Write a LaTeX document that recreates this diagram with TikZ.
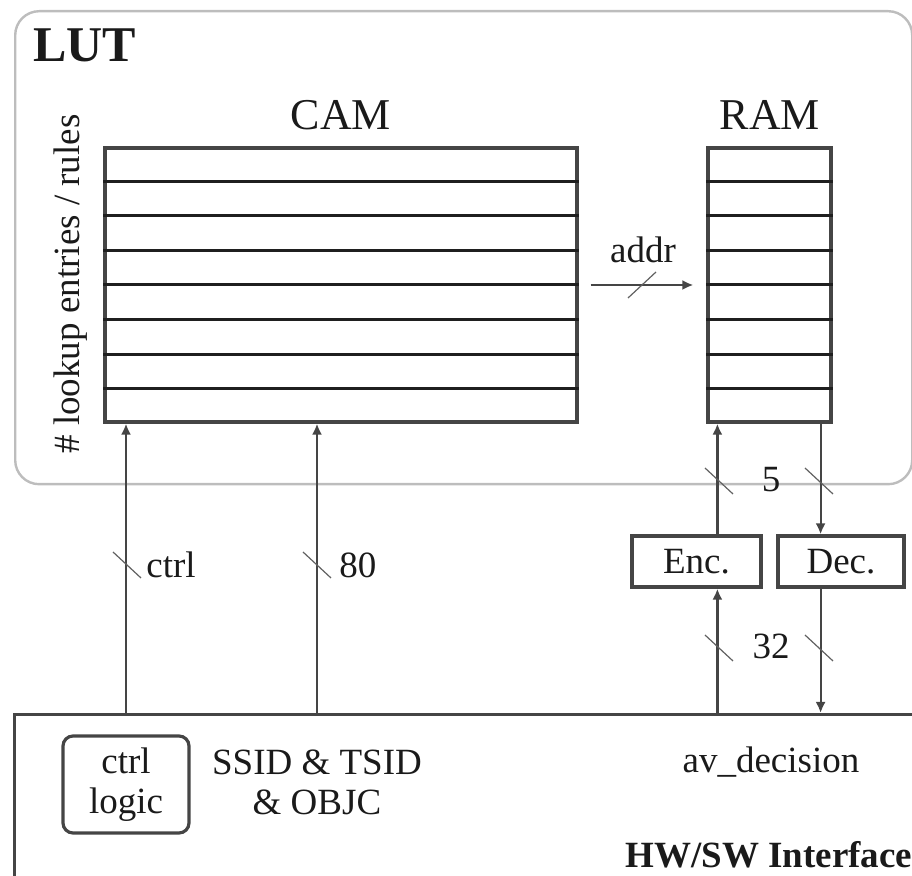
\documentclass[tikz,border=0pt]{standalone}
\usepackage{fontspec}
\setmainfont{Liberation Serif}
\usetikzlibrary{calc,arrows.meta}
\definecolor{boxgray}{HTML}{454545}
\definecolor{lutgray}{HTML}{BDBDBD}
\definecolor{txtcol}{HTML}{1A1A1A}
\begin{document}
\begin{tikzpicture}[x=0.5pt,y=-0.5pt,
  box/.style={draw=boxgray,line width=1.6pt,inner sep=0pt},
  rowline/.style={draw=black!88,line width=1.5pt},
  arr/.style={draw=boxgray,line width=1.1pt,-{Latex[length=5.5pt,width=5pt]}},
  slash/.style={draw=boxgray!85,line width=0.6pt},
  txt/.style={text=txtcol,inner sep=0pt,font=\fontsize{18.5}{20}\selectfont},
  bigtxt/.style={text=txtcol,inner sep=0pt,font=\fontsize{22}{24}\selectfont},
]
\path[use as bounding box] (0,0) rectangle (912,876);
\clip (0,0) rectangle (912,876);

% LUT frame
\node[draw=lutgray,line width=1.2pt,rounded corners=12pt,inner sep=0pt,
      minimum width=448.5pt,minimum height=236.5pt,anchor=north west] (lut) at (14,10) {};
\node[text=txtcol,inner sep=0pt,anchor=base west,font=\fontsize{25}{28}\selectfont\bfseries] (lutlabel) at (33,62) {LUT};

% CAM and RAM
\node[box,minimum width=236pt,minimum height=137pt] (cam) at (341,285) {};
\node[box,minimum width=61.5pt,minimum height=137pt] (ram) at (769.5,285) {};
\foreach \i in {1,...,7}{
  \draw[rowline] ($(cam.north west)!\i/8!(cam.south west)$) -- ($(cam.north east)!\i/8!(cam.south east)$);
  \draw[rowline] ($(ram.north west)!\i/8!(ram.south west)$) -- ($(ram.north east)!\i/8!(ram.south east)$);
}
\node[bigtxt,anchor=base] (camlabel) at (341,130) {CAM};
\node[bigtxt,anchor=base] (ramlabel) at (770,130) {RAM};
\node[txt,rotate=90] (ylab) at (71,284) {\# lookup entries / rules};

% addr arrow
\draw[arr] ($(cam.east)+(12,0)$) coordinate (addrs) -- ($(ram.west)+(-13,0)$) coordinate (addre);
\coordinate (sa) at (642,285);
\draw[slash] ($(sa)+(-14,13)$) -- ($(sa)+(14,-13)$);
\node[txt,anchor=base] (addrlabel) at (643,263) {addr};

% Interface
\node[box,anchor=north west,minimum width=470pt,minimum height=100pt] (iface) at (13,713) {};
\node[box,draw=boxgray,rounded corners=5pt,minimum width=63pt,minimum height=48.5pt,
      txt,align=center,font=\fontsize{18.5}{20}\selectfont] (ctl) at (126,784.5) {ctrl\\logic};
\node[txt,align=center,anchor=north] (ssid) at (317,749) {SSID \& TSID\\\& OBJC};
\node[txt,anchor=base] (avd) at (771,773) {av\_decision};
\node[txt,anchor=base west,font=\fontsize{18.5}{20}\selectfont\bfseries] (hwsw) at (625,868) {HW/SW Interface};

% Encoder / Decoder
\node[box,minimum width=64.5pt,minimum height=25.5pt,txt] (enc) at (696.5,561.5) {Enc.};
\node[box,minimum width=63pt,minimum height=25.5pt,txt] (dec) at (841,561.5) {Dec.};

\coordinate (xe) at ($(ram.south west)+(11,0)$);
\coordinate (xd) at ($(ram.south east)+(-12,0)$);

% CAM inputs
\draw[arr] (iface.north -| ctl) -- (cam.south -| ctl);
\draw[arr] (iface.north -| ssid) -- (cam.south -| ssid);
% RAM paths
\draw[arr] (enc.north -| xe) -- (ram.south -| xe);
\draw[arr] (ram.south -| xd) -- (dec.north -| xd);
\draw[arr] (iface.north -| xe) -- (enc.south -| xe);
\draw[arr] (dec.south -| xd) -- (iface.north -| xd);

% bus slashes
\foreach \p in {(127,565),(317,565),(719,481),(819,481),(719,648),(819,648)}{
  \draw[slash] \p ++(-14,-13) -- ++(28,26);
}
\node[txt,anchor=base west] (lctrl) at (146,578) {ctrl};
\node[txt,anchor=base west] (l80) at (339,578) {80};
\node[txt,anchor=base] (l5) at (771,492) {5};
\node[txt,anchor=base] (l32) at (771,659) {32};
\end{tikzpicture}
\end{document}
